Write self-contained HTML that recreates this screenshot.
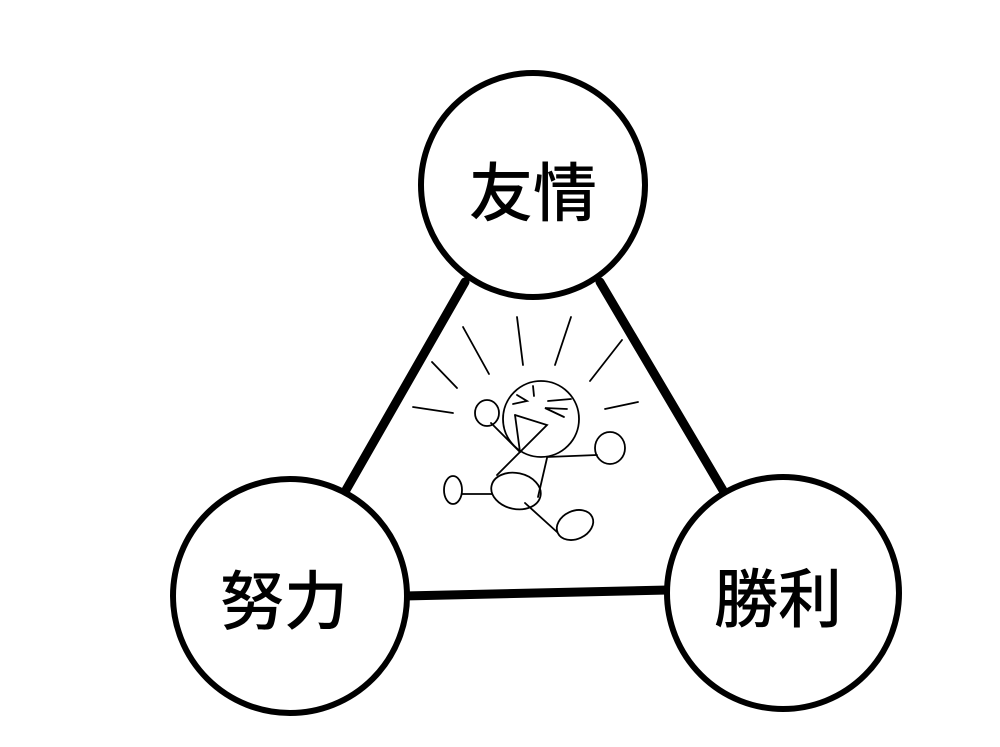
<!DOCTYPE html>
<html><head><meta charset="utf-8"><style>html,body{margin:0;padding:0;background:#fff}svg{display:block}</style></head>
<body>
<svg width="1000" height="747" viewBox="0 0 1000 747" xmlns="http://www.w3.org/2000/svg">
<g stroke="#000" fill="none" stroke-linecap="round">
<line x1="465" y1="282" x2="346" y2="490" stroke-width="9"/>
<line x1="600" y1="282" x2="724" y2="492" stroke-width="9"/>
<line x1="404" y1="596" x2="668" y2="590" stroke-width="9"/>
<circle cx="533" cy="185" r="112" stroke-width="6" fill="#fff"/>
<circle cx="290" cy="596" r="117" stroke-width="6" fill="#fff"/>
<circle cx="783" cy="593" r="116" stroke-width="6" fill="#fff"/>
<g stroke-width="1.8">
<line x1="413" y1="407" x2="453" y2="413"/>
<line x1="432" y1="362" x2="457" y2="388"/>
<line x1="463" y1="327" x2="489" y2="374"/>
<line x1="517" y1="317" x2="523" y2="365"/>
<line x1="571" y1="317" x2="555" y2="365"/>
<line x1="622" y1="340" x2="590" y2="381"/>
<line x1="638" y1="402" x2="605" y2="409"/>
<circle cx="541" cy="419" r="38"/>
<ellipse cx="487" cy="413" rx="12" ry="13"/>
<line x1="491" y1="423" x2="520" y2="452"/>
<polyline points="515,415 547,425 520,452"/>
<line x1="515" y1="415" x2="520" y2="452"/>
<polyline points="517,395 527,401 513,404"/>
<polyline points="567,409 545,408 564,417"/>
<line x1="548" y1="401" x2="571" y2="399"/>
<line x1="533" y1="386" x2="534" y2="396"/>
<line x1="547" y1="457" x2="597" y2="455"/>
<ellipse cx="610" cy="448" rx="15" ry="16"/>
<line x1="520" y1="452" x2="497" y2="475"/>
<line x1="547" y1="458" x2="538" y2="497"/>
<ellipse cx="516" cy="491" rx="25" ry="18" transform="rotate(12 516 491)"/>
<line x1="462" y1="494" x2="492" y2="494"/>
<ellipse cx="453" cy="490" rx="9" ry="14"/>
<line x1="525" y1="503" x2="557" y2="532"/>
<ellipse cx="575" cy="525" rx="19" ry="14" transform="rotate(-25 575 525)"/>
</g>
</g>
<g font-family="'Liberation Sans','Noto Sans CJK JP',sans-serif" font-size="64" font-weight="500" text-anchor="middle" fill="#000">
<text x="533" y="216">友情</text>
<text x="284" y="624">努力</text>
<text x="778" y="622">勝利</text>
</g>
</svg>
</body></html>
